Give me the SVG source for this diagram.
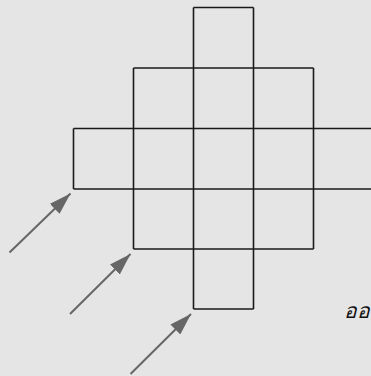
<svg xmlns="http://www.w3.org/2000/svg" width="371" height="376" viewBox="0 0 371 376">
<style>
.grid{fill:none;stroke:#1a1a1a;stroke-width:1.6}
.arr{stroke:#666;stroke-width:2;fill:none}
.lbl{font-family:"Noto Sans","DejaVu Sans",sans-serif;font-style:italic;font-size:21px;fill:#111}
</style>
<defs>
<marker id="ah" markerWidth="22" markerHeight="14" refX="22" refY="7" orient="auto" markerUnits="userSpaceOnUse" viewBox="0 0 22 14">
<path d="M0,0 L22,7 L0,14 Z" fill="#666"/>
</marker>
</defs>
<rect width="371" height="376" fill="#e5e5e5"/>
<g id="grid">
<path class="grid" d="M193.5,7.5H253.5 M133.5,68H313.5 M73.5,128.5H373.5 M73.5,189H373.5 M133.5,249H313.5 M193.5,309H253.5 M73.5,128.5V189 M133.5,68V249 M193.5,7.5V309 M253.5,7.5V309 M313.5,68V249 M373.5,128.5V189"/>
</g>
<g id="connectors">
<line class="arr" x1="9.5" y1="252.5" x2="70.5" y2="193.5" marker-end="url(#ah)"/>
<line class="arr" x1="70" y1="314" x2="130.5" y2="254" marker-end="url(#ah)"/>
<line class="arr" x1="130.5" y1="374" x2="191" y2="314" marker-end="url(#ah)"/>
</g>
<text class="lbl" x="344" y="318">ออ</text>
</svg>
